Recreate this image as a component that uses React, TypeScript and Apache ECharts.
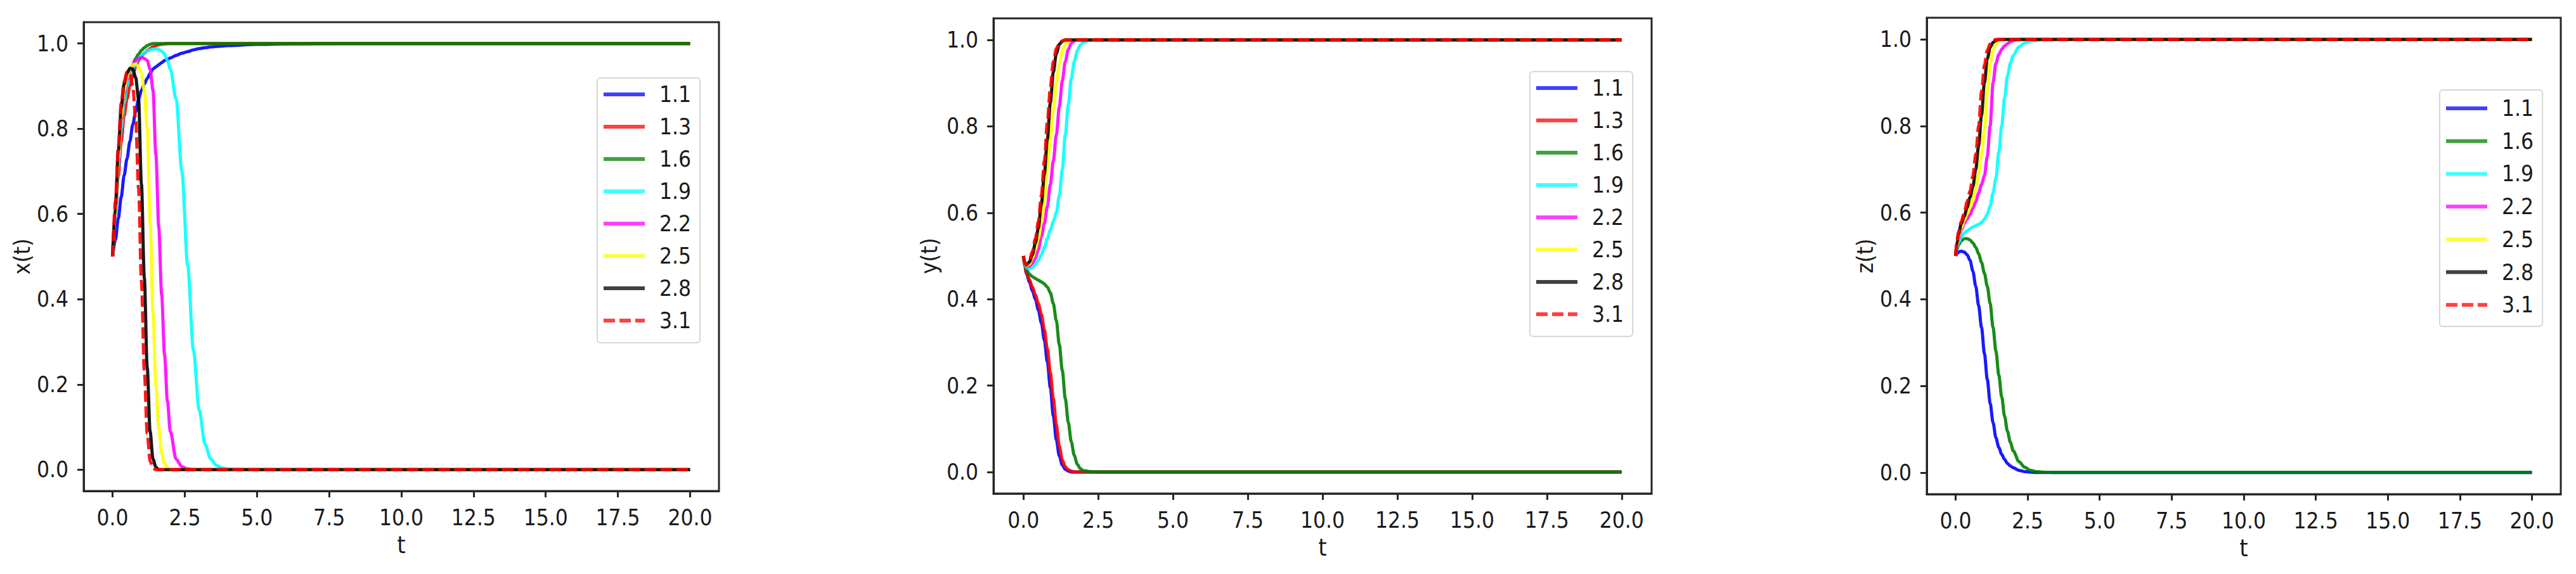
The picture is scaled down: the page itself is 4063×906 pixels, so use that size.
import React, { useEffect, useRef } from "react";
import * as echarts from "echarts";

// ---------- data ----------
const T1 = [0, 0.1, 0.2, 0.3, 0.4, 0.5, 0.6, 0.7, 0.8, 0.9, 1.0, 1.1, 1.2, 1.3, 1.4, 1.5, 1.6, 1.7, 1.8, 1.9, 2.0, 2.2, 2.4, 2.6, 2.8, 3.0, 3.2, 3.4, 3.6, 3.8, 4.0, 5, 6, 8, 20];

const X_11 = [0.5, 0.54, 0.59, 0.64, 0.69, 0.73, 0.77, 0.81, 0.84, 0.87, 0.89, 0.905, 0.918, 0.93, 0.94, 0.945, 0.95, 0.955, 0.96, 0.963, 0.966, 0.972, 0.977, 0.981, 0.985, 0.988, 0.99, 0.992, 0.993, 0.994, 0.995, 0.998, 0.999, 1, 1];
const X_13 = [0.5, 0.6, 0.69, 0.77, 0.83, 0.87, 0.9, 0.925, 0.945, 0.96, 0.97, 0.977, 0.983, 0.988, 0.992, 0.995, 0.997, 0.998, 0.999, 1, 1, 1, 1, 1, 1, 1, 1, 1, 1, 1, 1, 1, 1, 1, 1];
const X_16 = [0.5, 0.61, 0.72, 0.8, 0.86, 0.9, 0.93, 0.95, 0.965, 0.975, 0.984, 0.99, 0.995, 0.998, 1, 1, 1, 1, 1, 1, 1, 1, 1, 1, 1, 1, 1, 1, 1, 1, 1, 1, 1, 1, 1];
const X_19 = [0.5, 0.6, 0.71, 0.8, 0.86, 0.9, 0.925, 0.94, 0.955, 0.965, 0.972, 0.978, 0.982, 0.985, 0.987, 0.987, 0.986, 0.982, 0.975, 0.96, 0.94, 0.87, 0.7, 0.48, 0.28, 0.14, 0.06, 0.025, 0.01, 0.004, 0.001, 0, 0, 0, 0];
const X_22 = [0.5, 0.61, 0.72, 0.82, 0.88, 0.915, 0.935, 0.95, 0.96, 0.965, 0.967, 0.965, 0.96, 0.94, 0.89, 0.74, 0.57, 0.41, 0.27, 0.16, 0.09, 0.025, 0.007, 0.002, 0, 0, 0, 0, 0, 0, 0, 0, 0, 0, 0];
const X_25 = [0.5, 0.61, 0.73, 0.83, 0.89, 0.92, 0.94, 0.95, 0.952, 0.945, 0.93, 0.89, 0.8, 0.58, 0.37, 0.2, 0.1, 0.04, 0.015, 0.005, 0, 0, 0, 0, 0, 0, 0, 0, 0, 0, 0, 0, 0, 0, 0];
const X_28 = [0.5, 0.62, 0.75, 0.85, 0.905, 0.93, 0.942, 0.94, 0.92, 0.87, 0.67, 0.45, 0.24, 0.09, 0.025, 0.006, 0, 0, 0, 0, 0, 0, 0, 0, 0, 0, 0, 0, 0, 0, 0, 0, 0, 0, 0];
const X_31 = [0.5, 0.63, 0.76, 0.86, 0.91, 0.933, 0.93, 0.9, 0.82, 0.66, 0.44, 0.23, 0.085, 0.02, 0.004, 0, 0, 0, 0, 0, 0, 0, 0, 0, 0, 0, 0, 0, 0, 0, 0, 0, 0, 0, 0];

const T2 = [0, 0.05, 0.1, 0.2, 0.3, 0.4, 0.5, 0.6, 0.7, 0.8, 0.9, 1.0, 1.1, 1.2, 1.3, 1.4, 1.5, 1.6, 1.7, 1.8, 1.9, 2.0, 2.2, 2.4, 2.6, 2.8, 3.0, 3.5, 4, 20];

const Y_11 = [0.5, 0.475, 0.46, 0.44, 0.42, 0.4, 0.375, 0.345, 0.305, 0.255, 0.195, 0.13, 0.075, 0.037, 0.016, 0.006, 0.002, 0, 0, 0, 0, 0, 0, 0, 0, 0, 0, 0, 0, 0];
const Y_13 = [0.5, 0.476, 0.462, 0.445, 0.428, 0.41, 0.39, 0.365, 0.33, 0.285, 0.23, 0.17, 0.11, 0.06, 0.028, 0.012, 0.005, 0.002, 0, 0, 0, 0, 0, 0, 0, 0, 0, 0, 0, 0];
const Y_16 = [0.5, 0.478, 0.468, 0.458, 0.452, 0.448, 0.444, 0.44, 0.435, 0.428, 0.415, 0.39, 0.35, 0.295, 0.235, 0.17, 0.115, 0.07, 0.038, 0.018, 0.008, 0.003, 0.001, 0, 0, 0, 0, 0, 0, 0];
const Y_19 = [0.5, 0.482, 0.473, 0.47, 0.473, 0.48, 0.49, 0.503, 0.52, 0.54, 0.56, 0.58, 0.6, 0.64, 0.7, 0.78, 0.85, 0.91, 0.95, 0.975, 0.988, 0.995, 0.999, 1, 1, 1, 1, 1, 1, 1];
const Y_22 = [0.5, 0.483, 0.475, 0.476, 0.483, 0.495, 0.515, 0.545, 0.575, 0.615, 0.665, 0.72, 0.78, 0.845, 0.905, 0.95, 0.978, 0.992, 0.998, 1, 1, 1, 1, 1, 1, 1, 1, 1, 1, 1];
const Y_25 = [0.5, 0.484, 0.477, 0.481, 0.495, 0.515, 0.54, 0.58, 0.63, 0.7, 0.77, 0.84, 0.9, 0.945, 0.975, 0.99, 0.997, 1, 1, 1, 1, 1, 1, 1, 1, 1, 1, 1, 1, 1];
const Y_28 = [0.5, 0.485, 0.479, 0.486, 0.503, 0.53, 0.565, 0.62, 0.69, 0.77, 0.855, 0.925, 0.968, 0.99, 0.997, 1, 1, 1, 1, 1, 1, 1, 1, 1, 1, 1, 1, 1, 1, 1];
const Y_31 = [0.5, 0.485, 0.48, 0.49, 0.51, 0.54, 0.58, 0.64, 0.72, 0.81, 0.89, 0.95, 0.98, 0.994, 0.998, 1, 1, 1, 1, 1, 1, 1, 1, 1, 1, 1, 1, 1, 1, 1];

const Z_11 = [0.5, 0.505, 0.509, 0.511, 0.509, 0.503, 0.49, 0.465, 0.43, 0.385, 0.335, 0.275, 0.215, 0.16, 0.115, 0.08, 0.058, 0.042, 0.03, 0.021, 0.015, 0.011, 0.005, 0.002, 0.001, 0, 0, 0, 0, 0];
const Z_16 = [0.5, 0.515, 0.525, 0.535, 0.54, 0.54, 0.537, 0.53, 0.52, 0.505, 0.485, 0.46, 0.43, 0.39, 0.335, 0.28, 0.225, 0.175, 0.13, 0.095, 0.07, 0.05, 0.025, 0.012, 0.005, 0.002, 0.001, 0, 0, 0];
const Z_19 = [0.5, 0.52, 0.53, 0.545, 0.553, 0.558, 0.563, 0.567, 0.57, 0.573, 0.577, 0.585, 0.597, 0.615, 0.645, 0.68, 0.74, 0.8, 0.865, 0.915, 0.945, 0.963, 0.983, 0.992, 0.996, 0.998, 0.999, 1, 1, 1];
const Z_22 = [0.5, 0.525, 0.54, 0.56, 0.575, 0.585, 0.595, 0.61, 0.625, 0.645, 0.665, 0.685, 0.73, 0.8, 0.9, 0.945, 0.965, 0.977, 0.985, 0.99, 0.994, 0.997, 1, 1, 1, 1, 1, 1, 1, 1];
const Z_25 = [0.5, 0.528, 0.545, 0.565, 0.582, 0.597, 0.612, 0.63, 0.655, 0.69, 0.735, 0.79, 0.88, 0.945, 0.975, 0.99, 0.996, 1, 1, 1, 1, 1, 1, 1, 1, 1, 1, 1, 1, 1];
const Z_28 = [0.5, 0.532, 0.55, 0.575, 0.592, 0.612, 0.635, 0.66, 0.7, 0.755, 0.825, 0.9, 0.955, 0.982, 0.993, 0.998, 1, 1, 1, 1, 1, 1, 1, 1, 1, 1, 1, 1, 1, 1];
const Z_31 = [0.5, 0.535, 0.555, 0.58, 0.6, 0.625, 0.65, 0.685, 0.735, 0.8, 0.88, 0.94, 0.975, 0.99, 0.997, 1, 1, 1, 1, 1, 1, 1, 1, 1, 1, 1, 1, 1, 1, 1];

const X_TICKS = [0, 2.5, 5, 7.5, 10, 12.5, 15, 17.5, 20];
const Y_TICKS = [0, 0.2, 0.4, 0.6, 0.8, 1.0];
const X_NAME = "t";
const Y_NAMES = ["x(t)", "y(t)", "z(t)"];

const PANEL_X: [string, number[]][] = [
  ["1.1", X_11], ["1.3", X_13], ["1.6", X_16], ["1.9", X_19],
  ["2.2", X_22], ["2.5", X_25], ["2.8", X_28], ["3.1", X_31],
];
const PANEL_Y: [string, number[]][] = [
  ["1.1", Y_11], ["1.3", Y_13], ["1.6", Y_16], ["1.9", Y_19],
  ["2.2", Y_22], ["2.5", Y_25], ["2.8", Y_28], ["3.1", Y_31],
];
const PANEL_Z: [string, number[]][] = [
  ["1.1", Z_11], ["1.6", Z_16], ["1.9", Z_19],
  ["2.2", Z_22], ["2.5", Z_25], ["2.8", Z_28], ["3.1", Z_31],
];

// ---------- styles ----------
const COLORS: Record<string, string> = {
  "1.1": "#0000ff",
  "1.3": "#ff0000",
  "1.6": "#008000",
  "1.9": "#00ffff",
  "2.2": "#ff00ff",
  "2.5": "#ffff00",
  "2.8": "#000000",
  "3.1": "#ff0000",
};
const FONT = '"DejaVu Sans Condensed", "DejaVu Sans", sans-serif';
const INK = "#262626";

const GRIDS = [
  { left: 132, top: 35, width: 1002, height: 740 },
  { left: 1567, top: 29, width: 1038, height: 750 },
  { left: 3039, top: 28, width: 1000, height: 752 },
];
const LEGENDS = [
  { left: 942, top: 123, itemGap: 15, padding: [8, 14, 17, 7] },
  { left: 2413, top: 113, itemGap: 15, padding: [8, 14, 17, 7] },
  { left: 3848, top: 142, itemGap: 15.7, padding: [11, 14, 16, 7] },
];
const Y_NAME_GAPS = [80, 84, 80];

export default function App() {
  const ref = useRef<HTMLDivElement>(null);

  useEffect(() => {
    if (!ref.current) return;
    const chart = echarts.init(ref.current, undefined, { renderer: "svg" });

    const panels = [
      { t: T1, series: PANEL_X },
      { t: T2, series: PANEL_Y },
      { t: T2, series: PANEL_Z },
    ];

    const series: any[] = [];
    panels.forEach((p, gi) => {
      p.series.forEach(([name, vals]) => {
        series.push({
          type: "line",
          name,
          xAxisIndex: gi,
          yAxisIndex: gi,
          data: p.t.map((tv, i) => [tv, vals[i]]),
          symbol: "none",
          showSymbol: false,
          smooth: 0.3,
          smoothMonotone: "x",
          lineStyle: {
            color: COLORS[name],
            width: 5,
            opacity: 0.9,
            type: name === "3.1" ? [18, 7] : "solid",
          },
          itemStyle: { color: COLORS[name] },
        });
      });
    });

    const axisTextStyle = { fontSize: 35, color: "#1a1a1a", fontFamily: FONT };

    const option: any = {
      animation: false,
      backgroundColor: "#ffffff",
      grid: GRIDS.map((g) => ({
        ...g,
        show: true,
        borderColor: INK,
        borderWidth: 3,
        backgroundColor: "transparent",
        containLabel: false,
      })),
      xAxis: GRIDS.map((_, gi) => ({
        type: "value",
        gridIndex: gi,
        min: -1,
        max: 21,
        splitLine: { show: false },
        axisLine: { show: true, onZero: false, lineStyle: { color: INK, width: 3 } },
        axisTick: { show: true, inside: false, length: 10, customValues: X_TICKS, lineStyle: { color: INK, width: 3 } },
        axisLabel: { customValues: X_TICKS, formatter: (v: number) => v.toFixed(1), margin: 24, ...axisTextStyle },
        name: X_NAME,
        nameLocation: "middle",
        nameGap: 66,
        nameTextStyle: { fontSize: 38, color: "#1a1a1a", fontFamily: FONT },
      })),
      yAxis: GRIDS.map((_, gi) => ({
        type: "value",
        gridIndex: gi,
        min: -0.05,
        max: 1.05,
        splitLine: { show: false },
        axisLine: { show: true, onZero: false, lineStyle: { color: INK, width: 3 } },
        axisTick: { show: true, inside: false, length: 10, customValues: Y_TICKS, lineStyle: { color: INK, width: 3 } },
        axisLabel: { customValues: Y_TICKS, formatter: (v: number) => v.toFixed(1), margin: 24, ...axisTextStyle },
        name: Y_NAMES[gi],
        nameLocation: "middle",
        nameGap: Y_NAME_GAPS[gi],
        nameTextStyle: { fontSize: 36, color: "#1a1a1a", fontFamily: FONT },
      })),
      legend: LEGENDS.map((l, gi) => ({
        orient: "vertical",
        left: l.left,
        top: l.top,
        data: panels[gi].series.map(([n]) => n),
        itemWidth: 65,
        itemHeight: 14,
        itemGap: l.itemGap,
        padding: l.padding,
        backgroundColor: "#ffffff",
        borderColor: "#d6d6d6",
        borderWidth: 2,
        borderRadius: 5,
        selectedMode: false,
        itemStyle: { opacity: 0, borderWidth: 0 },
        lineStyle: { width: 6, opacity: 0.75 },
        textStyle: { fontSize: 35, lineHeight: 36, color: "#1a1a1a", fontFamily: FONT, padding: [0, 0, 0, 18] },
      })),
      series,
    };

    chart.setOption(option);
    return () => chart.dispose();
  }, []);

  return (
    <div
      ref={ref}
      style={{ position: "absolute", left: 0, top: 0, width: 4063, height: 906, background: "#fff" }}
    />
  );
}
